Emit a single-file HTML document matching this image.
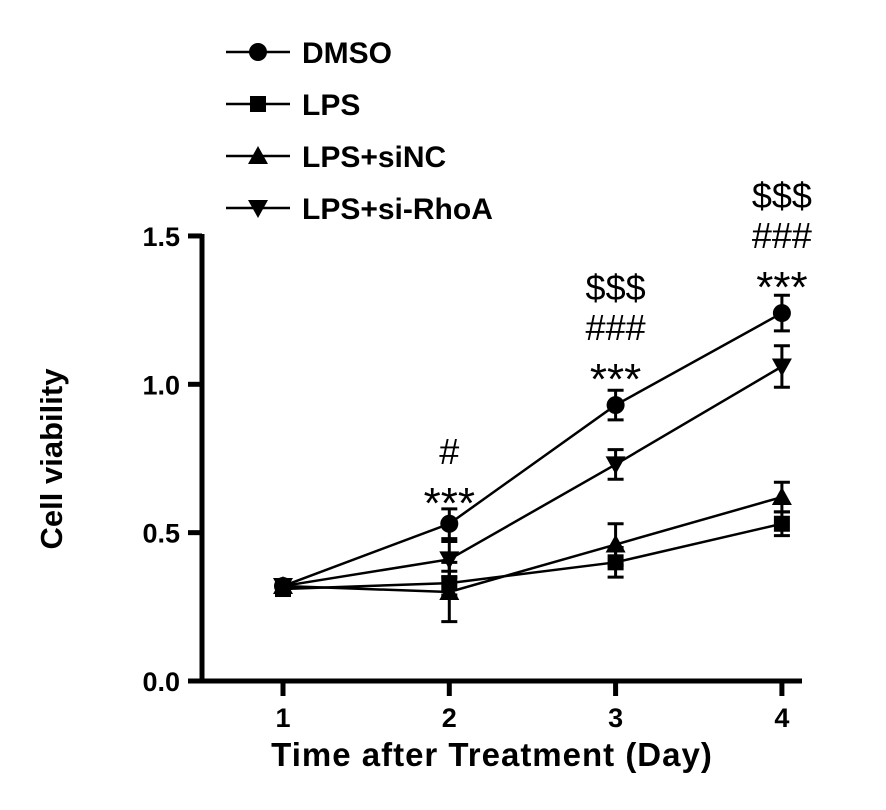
<!DOCTYPE html>
<html><head><meta charset="utf-8"><style>
body{margin:0;background:#fff;}
svg text{font-family:"Liberation Sans",Arial,sans-serif;font-weight:bold;fill:#000;}
</style></head><body>
<svg width="886" height="805" viewBox="0 0 886 805">
<g id="plot"></g>
</svg>
<script>
const days=[1,2,3,4];
const yTicks=[0,0.5,1.0,1.5];
const yTickLabels=["0.0","0.5","1.0","1.5"];
const seriesNames=["DMSO","LPS","LPS+siNC","LPS+si-RhoA"];
const dmso=[0.32,0.53,0.93,1.24];
const dmsoErr=[0.02,0.05,0.05,0.06];
const lps=[0.31,0.33,0.40,0.53];
const lpsErr=[0.02,0.04,0.05,0.04];
const sinc=[0.32,0.30,0.46,0.62];
const sincErr=[0.02,0.10,0.07,0.05];
const rhoa=[0.32,0.41,0.73,1.06];
const rhoaErr=[0.02,0.06,0.05,0.07];
const sigDay2=["#","***"];
const sigDay3=["$$$","###","***"];
const sigDay4=["$$$","###","***"];

const NS="http://www.w3.org/2000/svg";
const g=document.getElementById('plot');
function xs(d){return 283+(d-1)*166.3;}
function ys(v){return 681-v*296.7;}
function mk(t,a,p){const e=document.createElementNS(NS,t);for(const k in a)e.setAttribute(k,a[k]);(p||g).appendChild(e);return e;}
let ax=mk('line',{x1:202,y1:234,x2:202,y2:683,stroke:'#000','stroke-width':5});


let bx=mk('line',{x1:200,y1:681,x2:802,y2:681,stroke:'#000','stroke-width':5});


yTicks.forEach((v,i)=>{
  mk('line',{x1:188,y1:ys(v),x2:202,y2:ys(v),stroke:'#000','stroke-width':5});
  const t=mk('text',{x:180,y:ys(v)+10,'text-anchor':'end','font-size':27});
  t.textContent=yTickLabels[i];
  
  
});
days.forEach(d=>{
  mk('line',{x1:xs(d),y1:681,x2:xs(d),y2:696,stroke:'#000','stroke-width':5});
  const t=mk('text',{x:xs(d),y:727,'text-anchor':'middle','font-size':27});
  t.textContent=d;
  
  
});
let xt=mk('text',{x:492,y:766,'text-anchor':'middle','font-size':33,'letter-spacing':'1'});
xt.textContent="Time after Treatment (Day)";


let yt=mk('text',{x:0,y:0,'text-anchor':'middle','font-size':31,transform:'translate(62,459) rotate(-90)'});
yt.textContent="Cell viability";



function marker(type,x,y,p){
  if(type==0)return mk('circle',{cx:x,cy:y,r:9,fill:'#000'},p);
  if(type==1)return mk('rect',{x:x-8,y:y-8,width:16,height:16,fill:'#000'},p);
  if(type==2)return mk('polygon',{points:`${x},${y-10} ${x-10},${y+8} ${x+10},${y+8}`,fill:'#000'},p);
  return mk('polygon',{points:`${x},${y+10} ${x-10},${y-8} ${x+10},${y-8}`,fill:'#000'},p);
}
const all=[[dmso,dmsoErr],[lps,lpsErr],[sinc,sincErr],[rhoa,rhoaErr]];
all.forEach((s,si)=>{
  const grp=mk('g',{});
  
  
  const pts=s[0].map((v,i)=>xs(days[i])+','+ys(v)).join(' ');
  mk('polyline',{points:pts,fill:'none',stroke:'#000','stroke-width':2.5},grp);
  s[0].forEach((v,i)=>{
    const x=xs(days[i]),e=s[1][i];
    mk('line',{x1:x,y1:ys(v+e),x2:x,y2:ys(v-e),stroke:'#000','stroke-width':3},grp);
    mk('line',{x1:x-8,y1:ys(v+e),x2:x+8,y2:ys(v+e),stroke:'#000','stroke-width':3},grp);
    mk('line',{x1:x-8,y1:ys(v-e),x2:x+8,y2:ys(v-e),stroke:'#000','stroke-width':3},grp);
    const m=marker(si,x,ys(v),grp);
    
    
  });
});
function sig(arr,d,bottomY){
  arr.slice().reverse().forEach((s,i)=>{
    const isStar=s==='***';
    const t=mk('text',{x:xs(d),y:bottomY-i*40+(isStar?14:0),'text-anchor':'middle','font-size':isStar?44:36});
    t.style.fontWeight='normal';
    t.textContent=s;
    
    
  });
}
sig(sigDay2,2,504);
sig(sigDay3,3,380);
sig(sigDay4,4,288);
seriesNames.forEach((n,i)=>{
  const y=52+i*52;
  const lg=mk('g',{});
  
  
  mk('line',{x1:226,y1:y,x2:290,y2:y,stroke:'#000','stroke-width':2.5},lg);
  marker(i,258,y,lg);
  const t=mk('text',{x:302,y:y+11,'font-size':30},lg);
  t.textContent=n;
});
</script>
</body></html>
